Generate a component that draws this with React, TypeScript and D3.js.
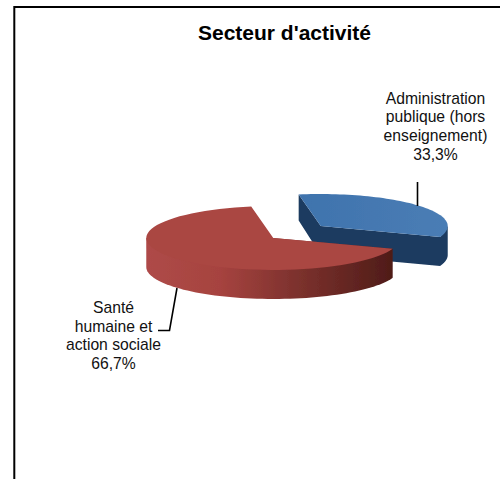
import React from "react";
import * as d3 from "d3";

const categories = ["Administration publique (hors enseignement)", "Santé humaine et action sociale"];
const shares = [33.3, 66.7];
const labelLines = [
  ["Administration", "publique (hors", "enseignement)", "33,3%"],
  ["Santé", "humaine et", "action sociale", "66,7%"],
];
const title = "Secteur d'activité";

const W = 500, H = 479;
const cx = 297, cy = 232, rx = 127, ry = 32, depth = 29, explode = 31, kY = 0.3;
const FONT = "Liberation Sans, Arial, sans-serif";

const pie = d3.pie<number>().sort(null).startAngle((-10 * Math.PI) / 180).endAngle((350 * Math.PI) / 180);
const [blue, red] = pie(shares);

type P = [number, number];
function pt(c: P, a: number, dy = 0): P {
  return [c[0] + rx * Math.sin(a), c[1] - ry * Math.cos(a) + dy];
}
function centre(a: { startAngle: number; endAngle: number }): P {
  const m = (a.startAngle + a.endAngle) / 2;
  return [cx + explode * Math.sin(m), cy - explode * kY * Math.cos(m)];
}
function rim(c: P, a0: number, a1: number, dy = 0): P[] {
  const n = 64;
  return d3.range(n + 1).map((i) => pt(c, a0 + ((a1 - a0) * i) / n, dy));
}
const line = d3.line();
const topPath = (c: P, a0: number, a1: number) => line([c, ...rim(c, a0, a1)]) + "Z";

const bc = centre(blue), rc = centre(red);
const hp = Math.PI / 2;

// Solid underside of a slice: everything below the top face, extending up to the
// apex so that no seam shows between the top face and its wall.
function bodyPath(c: P, a0: number, a1: number) {
  return line([c, pt(c, a0), ...rim(c, a0, a1, depth), pt(c, a1)]) + "Z";
}

export default function App() {
  const bs = pt(bc, blue.startAngle);
  const be = pt(bc, blue.endAngle);
  const blueBody: P[] = [
    bs,
    [bs[0], bs[1] + depth - 3],
    [bc[0], bc[1] + depth],
    ...rim(bc, blue.endAngle, hp, depth),
    pt(bc, hp),
    be,
    bc,
  ];
  return (
    <svg width={W} height={H} style={{ position: "absolute", left: 0, top: 0, background: "#fff" }}>
      <title>{categories.join(" / ")}</title>
      <defs>
        <linearGradient id="rw" x1="0" x2="1" y1="0" y2="0">
          <stop offset="0" stopColor="#ae4a48" />
          <stop offset="0.3" stopColor="#a6433f" />
          <stop offset="0.6" stopColor="#7e322e" />
          <stop offset="1" stopColor="#4f1c18" />
        </linearGradient>
        <linearGradient id="bt" x1="0" x2="1" y1="0" y2="0">
          <stop offset="0" stopColor="#3f73ad" />
          <stop offset="1" stopColor="#4a7db5" />
        </linearGradient>
        <filter id="soft" x="-5%" y="-5%" width="110%" height="110%">
          <feGaussianBlur stdDeviation="0.5" />
        </filter>
      </defs>

      <path d={`M14.3,${H}V7H${W}`} fill="none" stroke="#000" strokeWidth={2} />

      <text x={284.5} y={40} textAnchor="middle" fontFamily={FONT} fontSize={21} fontWeight="bold" fill="#000">
        {title}
      </text>

      <g filter="url(#soft)">
        <path d={line(blueBody) + "Z"} fill="#1c3b60" />
        <path d={topPath(bc, blue.startAngle, blue.endAngle)} fill="url(#bt)" />
        <path d={bodyPath(rc, red.startAngle, 3 * hp)} fill="url(#rw)" />
        <path d={topPath(rc, red.startAngle, red.endAngle)} fill="#aa4643" />
      </g>

      <path d="M417.5,182V206" fill="none" stroke="#000" strokeWidth={1.6} />
      <path d="M177,288L169.5,330.5H158" fill="none" stroke="#000" strokeWidth={1.6} />

      {labelLines[0].map((t, i) => (
        <text key={t} x={435.5} y={103.5 + i * 18.9} textAnchor="middle" fontFamily={FONT} fontSize={15.7} fill="#111">
          {t}
        </text>
      ))}
      {labelLines[1].map((t, i) => (
        <text key={t} x={113.5} y={313 + i * 18.5} textAnchor="middle" fontFamily={FONT} fontSize={15.7} fill="#111">
          {t}
        </text>
      ))}
    </svg>
  );
}
